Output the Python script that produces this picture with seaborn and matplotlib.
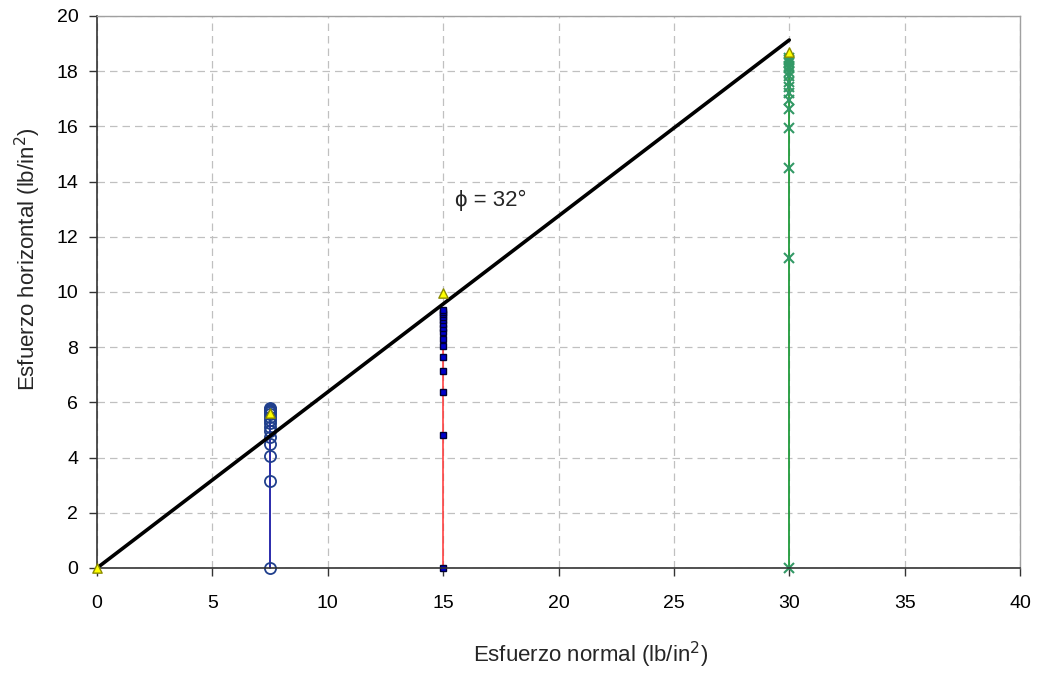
import numpy as np
import pandas as pd
import seaborn as sns
import matplotlib.pyplot as plt

# data
x_circ = 7.5
y_circ = [0, 3.16, 4.07, 4.49, 4.75, 4.95, 5.1, 5.25, 5.38, 5.48, 5.57, 5.64, 5.7, 5.74, 5.77, 5.8]
x_sq = 15
y_sq = [0, 4.83, 6.38, 7.15, 7.66, 8.03, 8.3, 8.56, 8.7, 8.84, 8.98, 9.1, 9.2, 9.28, 9.35]
x_cross = 30
y_cross = [0, 11.23, 14.48, 15.93, 16.63, 16.96, 17.2, 17.42, 17.62, 17.84, 17.98, 18.1, 18.2, 18.28, 18.35, 18.42, 18.48]
peak_x = [0, 7.5, 15, 30]
peak_y = [0, 5.6, 9.97, 18.7]
env_x = [0, 30]
env_y = [0, 19.13]

sns.set_style("white")
plt.rcParams['font.family'] = ['Liberation Sans', 'DejaVu Sans']

fig = plt.figure(figsize=(10.56, 6.73), dpi=100)
ax = fig.add_axes([97 / 1056, 1 - 568 / 673, (1020 - 97) / 1056, (568 - 16) / 673])

df1 = pd.DataFrame({'x': [x_circ] * len(y_circ), 'y': y_circ})
df2 = pd.DataFrame({'x': [x_sq] * len(y_sq), 'y': y_sq})
df3 = pd.DataFrame({'x': [x_cross] * len(y_cross), 'y': y_cross})

sns.lineplot(data=df1, x='x', y='y', estimator=None, sort=False, color='#1a1aa6', linewidth=1.3,
             marker='o', markersize=8, markerfacecolor='none', markeredgecolor='#1f3f8c',
             markeredgewidth=1.3, clip_on=False, ax=ax)
sns.lineplot(data=df2, x='x', y='y', estimator=None, sort=False, color='#ff3333', linewidth=1.1,
             marker='s', markersize=4, markerfacecolor='#0000cc', markeredgecolor='#000033',
             markeredgewidth=1.0, clip_on=False, ax=ax)
sns.lineplot(data=df3, x='x', y='y', estimator=None, sort=False, color='#1f9a3a', linewidth=1.3,
             marker='x', markersize=7, markeredgecolor='#339966', markeredgewidth=1.5,
             clip_on=False, ax=ax)
sns.lineplot(x=env_x, y=env_y, color='black', linewidth=2.6, ax=ax)
sns.scatterplot(x=peak_x, y=peak_y, marker='^', s=45, color='#ffff00', edgecolor='#8c8c00',
                linewidth=1.0, clip_on=False, zorder=5, ax=ax)

ax.text(15.5, 13.3, '\u03d5 = 32\u00b0', fontsize=16, va='center', ha='left')

ax.set_xlim(0, 40)
ax.set_ylim(0, 20)
ax.set_xticks(np.arange(0, 41, 5))
ax.set_yticks(np.arange(0, 21, 2))
ax.grid(True, linestyle=(0, (6, 4)), color='#c0c0c0', linewidth=0.9)
ax.set_axisbelow(True)
for s in ['top', 'right']:
    ax.spines[s].set_color('#a0a0a0')
    ax.spines[s].set_linewidth(1.0)
for s in ['left', 'bottom']:
    ax.spines[s].set_color('#333333')
    ax.spines[s].set_linewidth(1.2)
ax.tick_params(axis='both', which='both', direction='out', length=5.5, width=1, colors='#333333',
               labelcolor='black', labelsize=14, left=True, bottom=True)
ax.tick_params(axis='x', pad=14)
ax.tick_params(axis='y', pad=8)
ax.set_xlabel('Esfuerzo normal (lb/in$^2$)', fontsize=16, va='center')
ax.set_ylabel('Esfuerzo horizontal (lb/in$^2$)', fontsize=16, va='center')
ax.xaxis.set_label_coords((591 - 97) / 923, (568 - 655) / 552)
ax.yaxis.set_label_coords((28 - 97) / 923, (568 - 259) / 552)

fig.savefig('out.png', dpi=100)
